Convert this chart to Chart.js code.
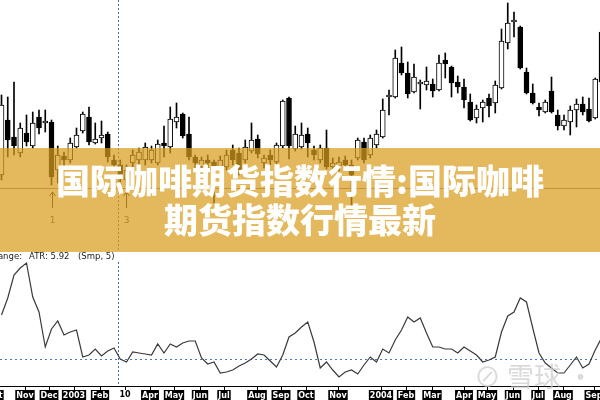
<!DOCTYPE html>
<html>
<head>
<meta charset="utf-8">
<title>国际咖啡期货指数行情</title>
<script src="https://cdn.jsdelivr.net/npm/chart.js@4"></script>
<style>
  body { margin: 0; width: 600px; height: 400px; overflow: hidden; background: #fff; position: relative; }
  #price { position: absolute; left: 0; top: 0; }
  #atr { position: absolute; left: 0; top: 252px; }
  .banner {
    position: absolute; left: 0; top: 148px; width: 600px; height: 104px;
    background: rgba(218, 156, 30, 0.72);
    color: #fff; font-family: "Noto Sans CJK SC", sans-serif; font-weight: 900;
    font-size: 34px; line-height: 39px; text-align: center;
    padding-top: 12px; box-sizing: border-box;
  }
  .mark {
    position: absolute; left: 474px; top: 356px; font-family: "Noto Sans CJK SC", sans-serif;
    font-size: 27px; color: rgba(205, 205, 205, 0.75); white-space: nowrap;
  }
</style>
</head>
<body>
<canvas id="price" width="600" height="252"></canvas>
<canvas id="atr" width="600" height="148"></canvas>
<div class="mark">⊘ 雪球 · 韭</div>
<div class="banner">国际咖啡期货指数行情:国际咖啡<br>期货指数行情最新</div>
<script>
// weekly bars, Sep 2002 .. Sep 2004 (index points)
const open  = [75,130,113,97,117,104,133,127,128,80,94,90,103,119,133,107,112,116,90,85,
               70,87,90,90,90,87,107,103,128,136,116,93,83,90,88,82,83,100,97,90,
               99,111,87,95,88,104,152,101,103,116,100,90,102,83,84,90,85,92,108,95,
               105,113,153,153,187,177,158,166,165,166,160,190,183,168,163,148,132,142,152,147,
               162,207,228,223,178,157,143,138,159,135,124,128,140,146,141,132,218];
const high  = [155,153,168,127,135,138,140,140,130,104,98,112,122,138,143,127,129,118,95,90,
               85,100,102,107,104,110,124,143,147,137,133,95,93,95,90,94,100,105,102,110,
               127,115,95,100,107,150,153,124,127,122,104,105,120,92,93,94,90,112,112,115,
               120,151,160,200,203,188,186,170,183,171,195,197,184,174,171,156,145,150,156,169,
               221,247,238,224,182,166,147,150,173,140,135,144,151,153,152,172,220];
const low   = [70,93,95,93,104,102,116,118,65,67,80,87,102,117,105,106,107,88,80,65,
               65,82,85,85,87,85,93,97,122,112,90,80,78,80,47,75,80,85,75,87,
               97,92,82,85,80,102,91,99,101,93,90,87,81,78,79,80,43,90,87,92,
               102,112,135,152,175,152,157,141,160,153,159,172,153,157,142,129,127,128,133,137,
               161,201,213,181,156,146,134,137,137,120,120,115,123,135,128,131,165];
const close = [145,110,104,122,108,127,122,128,73,95,90,107,115,136,108,111,115,93,85,72,
               80,95,98,103,100,106,104,131,133,114,93,87,90,87,80,90,95,90,80,103,
               110,96,92,90,105,149,104,116,115,107,95,102,83,87,88,85,75,110,90,112,
               116,140,154,192,177,156,173,167,169,159,187,186,167,163,150,130,141,148,144,165,
               209,227,229,182,157,147,140,148,138,124,130,140,146,138,129,171,168];

// ATR (simple, 5)
const atr = [7.1,8.8,11.1,11.8,12.3,8.9,7.4,3.9,5.7,6.5,5.1,5.4,5.6,2.9,3.1,3.7,3.0,3.5,3.8,2.7,
             2.4,3.4,3.3,3.2,3.1,4.2,3.3,4.2,3.9,4.3,4.5,4.5,2.8,2.2,2.4,1.3,1.4,1.6,2.0,2.3,
             2.7,3.2,3.1,2.5,1.9,3.1,4.9,5.3,5.9,6.4,4.4,1.8,2.4,1.6,0.9,1.4,1.6,1.2,2.1,2.9,
             2.4,3.7,3.3,4.6,5.6,6.9,6.4,6.8,5.3,3.9,3.9,3.7,3.7,3.3,3.9,3.5,3.1,2.4,2.6,2.9,
             5.4,7.0,7.4,8.8,8.4,5.8,3.3,2.3,1.8,1.3,1.3,2.1,2.9,1.8,2.2,3.6,4.8];

// month ticks, as week positions
const tickWeeks  = [-1, 3.8, 7.6, 11.6, 15.8, 19.8, 23.8, 27.6, 31.8, 35.6, 40.9, 44.7,
                    48.7, 53.8, 60.7, 64.7, 68.9, 74, 77.7, 81.8, 85.8, 89.8, 94.8];
const tickLabels = ['Oct', 'Nov', 'Dec', '2003', 'Feb', '10', 'Apr', 'May', 'Jun', 'Jul', 'Aug', 'Sep',
                    'Oct', 'Nov', '2004', 'Feb', 'Mar', 'Apr', 'May', 'Jun', 'Jul', 'Aug', 'Sep'];

const supportLevel = 62;
const cursorWeek = 18.7;
const markerWeeks = [8, 20];
const markerLabels = ['1', '3'];

const xRange = () => ({ type: 'linear', min: -0.24, max: 95.76, offset: false, display: false });

const priceDecor = {
  id: 'priceDecor',
  beforeDatasetsDraw(chart) {
    const { ctx, chartArea, scales: { x, y } } = chart;
    ctx.save();
    ctx.strokeStyle = '#808080';
    ctx.lineWidth = 1;
    const yy = Math.round(y.getPixelForValue(supportLevel)) + 0.5;
    ctx.beginPath(); ctx.moveTo(chartArea.left, yy); ctx.lineTo(chartArea.right, yy); ctx.stroke();
    ctx.strokeStyle = '#3d6db0';
    ctx.setLineDash([2, 2]);
    const cx = Math.round(x.getPixelForValue(cursorWeek)) + 0.5;
    ctx.beginPath(); ctx.moveTo(cx, chartArea.top); ctx.lineTo(cx, chartArea.bottom); ctx.stroke();
    ctx.restore();
  },
  afterDatasetsDraw(chart) {
    const { ctx, scales: { x, y } } = chart;
    ctx.save();
    markerWeeks.forEach((w, k) => {
      const px = Math.round(x.getPixelForValue(w)) + 0.5;
      const top = y.getPixelForValue(low[w]) + 7;
      ctx.strokeStyle = '#222';
      ctx.lineWidth = 1;
      ctx.beginPath(); ctx.moveTo(px, top); ctx.lineTo(px, top + 16); ctx.stroke();
      ctx.beginPath(); ctx.moveTo(px - 3, top + 4); ctx.lineTo(px, top); ctx.lineTo(px + 3, top + 4); ctx.stroke();
      ctx.fillStyle = '#444';
      ctx.font = '9px "DejaVu Sans"';
      ctx.textAlign = 'center';
      ctx.fillText(markerLabels[k], px, top + 31);
    });
    ctx.restore();
  }
};

new Chart(document.getElementById('price'), {
  type: 'bar',
  data: {
    datasets: [
      {
        data: open.map((o, i) => ({ x: i, y: [o, close[i]] })),
        backgroundColor: open.map((o, i) => close[i] >= o ? '#fff' : '#000'),
        borderColor: '#000',
        borderWidth: 1,
        borderSkipped: false,
        barThickness: 5,
        minBarLength: 2,
        grouped: false
      },
      {
        data: low.map((l, i) => ({ x: i, y: [l, high[i]] })),
        backgroundColor: '#000',
        borderWidth: 0,
        barThickness: 1,
        grouped: false
      }
    ]
  },
  options: {
    responsive: false,
    animation: false,
    layout: { padding: 0 },
    plugins: { legend: { display: false }, tooltip: { enabled: false } },
    scales: {
      x: xRange(),
      y: { min: -2, max: 250, display: false }
    }
  },
  plugins: [priceDecor]
});

const atrDecor = {
  id: 'atrDecor',
  beforeDatasetsDraw(chart) {
    const { ctx, chartArea, scales: { x, y } } = chart;
    ctx.save();
    ctx.lineWidth = 1;
    ctx.strokeStyle = '#4a78b8';
    ctx.setLineDash([2, 3]);
    const yy = Math.round(y.getPixelForValue(atr[Math.round(cursorWeek)])) + 0.5;
    ctx.beginPath(); ctx.moveTo(chartArea.left, yy); ctx.lineTo(chartArea.right, yy); ctx.stroke();
    ctx.strokeStyle = '#3d6db0';
    ctx.setLineDash([2, 2]);
    const cx = Math.round(x.getPixelForValue(cursorWeek)) + 0.5;
    ctx.beginPath(); ctx.moveTo(cx, chartArea.top + 10); ctx.lineTo(cx, chartArea.bottom); ctx.stroke();
    ctx.restore();
  },
  afterDraw(chart) {
    const { ctx, chartArea, scales: { x } } = chart;
    const base = chartArea.bottom;
    ctx.save();
    // axis
    ctx.strokeStyle = '#000';
    ctx.lineWidth = 1;
    ctx.beginPath(); ctx.moveTo(0, base + 0.5); ctx.lineTo(600, base + 0.5); ctx.stroke();
    // title
    ctx.fillStyle = '#222';
    ctx.font = '8.5px "DejaVu Sans"';
    ctx.textBaseline = 'middle';
    ctx.textAlign = 'right';
    ctx.fillText('True Range:', 22, 5);
    ctx.textAlign = 'left';
    ctx.fillText('ATR: 5.92', 29, 5);
    ctx.fillText('(Smp, 5)', 78, 5);
    // month labels
    ctx.font = 'bold 8px "DejaVu Sans"';
    ctx.textAlign = 'center';
    tickWeeks.forEach((w, k) => {
      const px = Math.round(x.getPixelForValue(w));
      const lbl = tickLabels[k];
      ctx.strokeStyle = '#000';
      ctx.beginPath(); ctx.moveTo(px + 0.5, base); ctx.lineTo(px + 0.5, base + 4); ctx.stroke();
      if (/^\d{1,2}$/.test(lbl)) {
        ctx.fillStyle = '#000';
        ctx.fillText(lbl, px, base + 9);
      } else {
        const tw = ctx.measureText(lbl).width;
        ctx.fillStyle = '#000';
        ctx.fillRect(px - tw / 2 - 1, base + 4, tw + 2, 10);
        ctx.fillStyle = '#fff';
        ctx.fillText(lbl, px, base + 9.5);
      }
    });
    ctx.restore();
  }
};

new Chart(document.getElementById('atr'), {
  type: 'line',
  data: {
    datasets: [{
      data: atr.map((v, i) => ({ x: i, y: v })),
      borderColor: '#3a3a3a',
      borderWidth: 1.2,
      pointRadius: 0,
      tension: 0
    }]
  },
  options: {
    responsive: false,
    animation: false,
    layout: { padding: { top: 0, left: 0, right: 0, bottom: 14 } },
    plugins: { legend: { display: false }, tooltip: { enabled: false } },
    scales: {
      x: xRange(),
      y: { min: 0, max: 13.4, display: false }
    }
  },
  plugins: [atrDecor]
});
</script>
</body>
</html>
